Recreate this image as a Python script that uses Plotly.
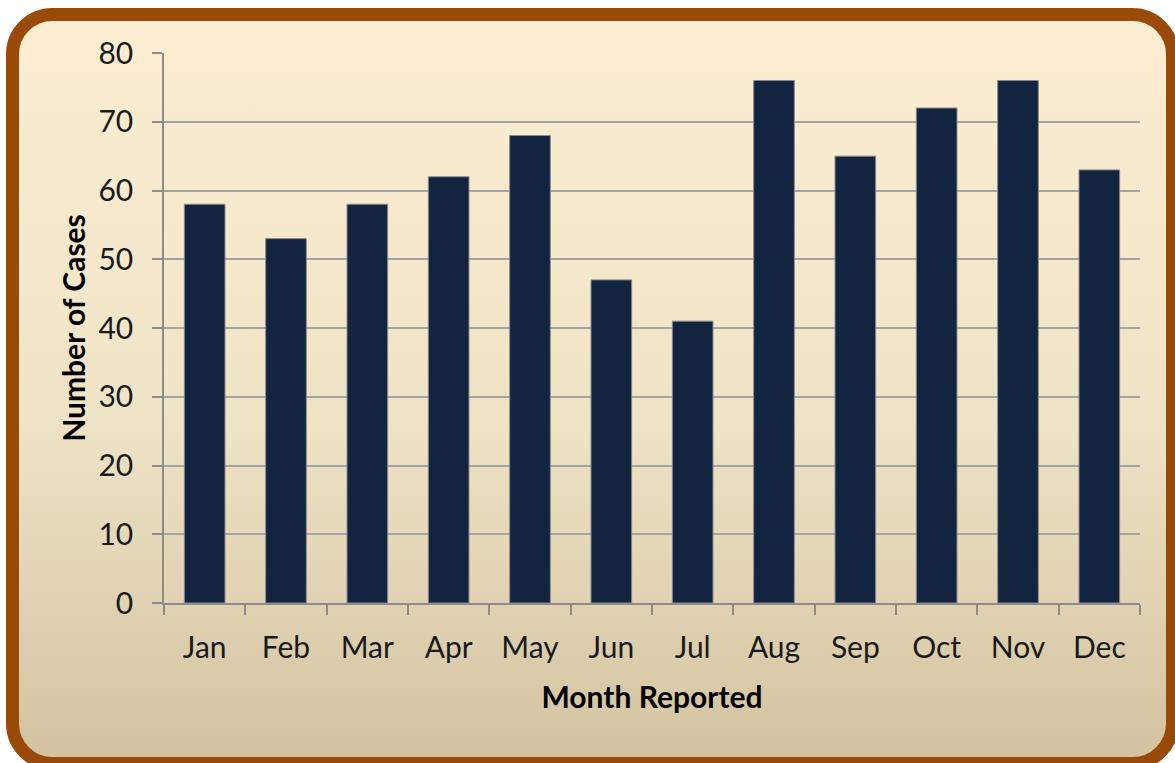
import base64
import plotly.graph_objects as go

# Monthly case counts
months = ["Jan", "Feb", "Mar", "Apr", "May", "Jun",
          "Jul", "Aug", "Sep", "Oct", "Nov", "Dec"]
cases = [58, 53, 58, 62, 68, 47, 41, 76, 65, 72, 76, 63]
y_ticks = [0, 10, 20, 30, 40, 50, 60, 70, 80]

W, H = 1175, 763

# Rounded, gradient-filled card with a brown frame behind the chart
card_svg = f"""<svg xmlns='http://www.w3.org/2000/svg' width='{W}' height='{H}' viewBox='0 0 {W} {H}'>
<defs><linearGradient id='g' x1='0' y1='0' x2='0' y2='1'>
<stop offset='0' stop-color='#FDEED2'/>
<stop offset='0.55' stop-color='#EFE3C6'/>
<stop offset='1' stop-color='#D2C29F'/>
</linearGradient></defs>
<rect x='12.5' y='14.5' width='1160' height='749' rx='40' ry='40'
 fill='url(#g)' stroke='#9A4A08' stroke-width='13'/>
</svg>"""
card_src = "data:image/svg+xml;base64," + base64.b64encode(card_svg.encode()).decode()

font_family = "Lato, 'Open Sans', sans-serif"

fig = go.Figure(
    go.Bar(
        x=months,
        y=cases,
        marker=dict(color="#12243F", line=dict(color="#8A8A8A", width=1)),
    )
)

fig.update_layout(
    width=W,
    height=H,
    margin=dict(l=164, r=35, t=53, b=160),
    paper_bgcolor="white",
    plot_bgcolor="white",
    bargap=0.5,
    showlegend=False,
    font=dict(family=font_family, color="#1a1a1a", size=30),
    images=[dict(
        source=card_src, xref="paper", yref="paper",
        x=-164 / (W - 164 - 35), y=1 + 53 / (H - 53 - 160),
        sizex=W / (W - 164 - 35), sizey=H / (H - 53 - 160),
        xanchor="left", yanchor="top", sizing="stretch", layer="below",
    )],
)

fig.update_xaxes(
    showline=True, linecolor="#8C8C8C", linewidth=1.5,
    ticks="outside", ticklen=10, tickcolor="#8C8C8C", tickwidth=1.5,
    tickson="boundaries", showgrid=False,
    ticklabelstandoff=17,
    tickfont=dict(size=30, family=font_family, color="#1a1a1a"),
    title=dict(text="<b>Month Reported</b>", standoff=24,
               font=dict(size=30, family=font_family, color="#000000")),
)

fig.update_yaxes(
    range=[0, 80], tickvals=y_ticks,
    showline=True, linecolor="#8C8C8C", linewidth=1.5,
    ticks="outside", ticklen=10, tickcolor="#8C8C8C", tickwidth=1.5,
    showgrid=True, gridcolor="#A3A3A3", gridwidth=1.5, zeroline=False,
    ticklabelstandoff=13,
    tickfont=dict(size=30, family=font_family, color="#1a1a1a"),
    title=dict(text="<b>Number of Cases</b>", standoff=4,
               font=dict(size=30, family=font_family, color="#000000")),
)

fig.write_html("out.html")
